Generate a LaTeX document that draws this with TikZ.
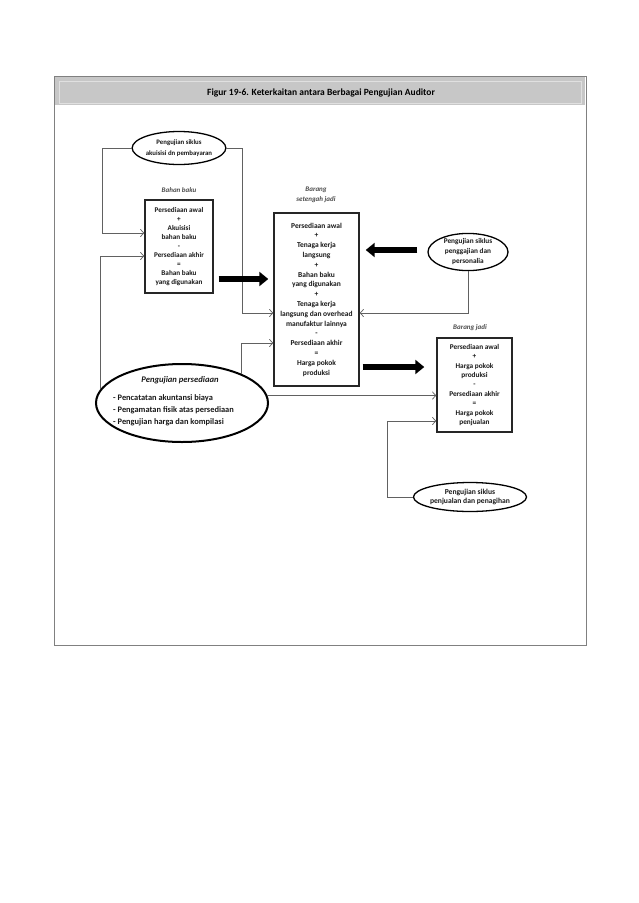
\documentclass[tikz,border=0pt]{standalone}
\usepackage{fontspec}
\setmainfont{Carlito}
\usetikzlibrary{shapes.geometric,arrows.meta,calc}
\begin{document}
\begin{tikzpicture}[x=1pt,y=-1pt,
  conn/.style={draw=black!62, line width=0.7pt, -{Straight Barb[length=3.5pt,width=7.5pt]}},
  bigarrow/.style={draw=black, line width=6pt, -{Triangle[length=9pt,width=14pt]}},
  box/.style={draw=black!85, line width=1.4pt, rectangle, inner sep=0pt, align=center, text=black!90},
  oval/.style={draw=black, line width=1.3pt, ellipse, inner sep=0pt, align=center, text=black!90},
  lbl/.style={font=\fontsize{7}{9}\selectfont\bfseries\itshape, text=black!70, align=center, inner sep=0pt}
]
\useasboundingbox (0,0) rectangle (638,903);
\fill[white] (0,0) rectangle (638,903);
% frame and title bar
\draw[black!50, line width=1pt] (54,76) rectangle (586,645);
\fill[black!22] (55,77) rectangle (585,105);
\draw[black!12, line width=0.8pt] (59,81) rectangle (581,103);
\node[font=\fontsize{9.5}{11}\selectfont\bfseries, inner sep=0pt] (title) at (321,93) {Figur 19-6. Keterkaitan antara Berbagai Pengujian Auditor};

% ellipses
\node[oval, minimum width=88pt, minimum height=33pt, font=\fontsize{6.8}{11}\selectfont\bfseries] (e1) at (179,148) {Pengujian siklus\\akuisisi dn pembayaran};
\node[oval, minimum width=80pt, minimum height=36pt, font=\fontsize{7.3}{10}\selectfont\bfseries] (e2) at (468,252) {Pengujian siklus\\penggajian dan\\personalia};
\node[oval, minimum width=104pt, minimum height=29pt, font=\fontsize{7.6}{9.5}\selectfont\bfseries] (e4) at (470,497) {Pengujian siklus\\penjualan dan penagihan};
\node[oval, line width=2pt, minimum width=172pt, minimum height=78pt] (e3) at (182,403) {};
\node[font=\fontsize{8.6}{10}\selectfont\bfseries\itshape, text=black!90, inner sep=0pt] (e3t) at (180,380) {Pengujian persediaan};
\node[font=\fontsize{8.4}{11.8}\selectfont\bfseries, text=black!90, align=left, anchor=west, inner sep=0pt] (e3l) at (113,410) {- Pencatatan akuntansi biaya\\- Pengamatan fisik atas persediaan\\- Pengujian harga dan kompilasi};

% labels
\node[lbl] (l1) at (179,190) {Bahan baku};
\node[lbl, font=\fontsize{7}{10}\selectfont\bfseries\itshape] (l2) at (316,195) {Barang\\setengah jadi};
\node[lbl] (l3) at (470,328) {Barang jadi};

% boxes
\node[box, minimum width=68pt, minimum height=93pt, font=\fontsize{7.2}{9}\selectfont\bfseries] (b1) at (179,246.5) {Persediaan awal\\+\\Akuisisi\\bahan baku\\-\\Persediaan akhir\\=\\Bahan baku\\yang digunakan};
\node[box, minimum width=85pt, minimum height=173pt, font=\fontsize{7.5}{9.8}\selectfont\bfseries] (b2) at (316.5,299.5) {Persediaan awal\\+\\Tenaga kerja\\langsung\\+\\Bahan baku\\yang digunakan\\+\\Tenaga kerja\\langsung dan overhead\\manufaktur lainnya\\-\\Persediaan akhir\\=\\Harga pokok\\produksi};
\node[box, minimum width=75pt, minimum height=94pt, font=\fontsize{7.3}{9.4}\selectfont\bfseries] (b3) at (474.5,385) {Persediaan awal\\+\\Harga pokok\\produksi\\-\\Persediaan akhir\\=\\Harga pokok\\penjualan};

% helper coordinates
\coordinate (k1) at (102,233);
\coordinate (k2) at (242,313);
\coordinate (k3) at (102,256);
\coordinate (k4) at (0,343);
\coordinate (k7) at (387,421);
\coordinate (y279) at (0,279);
\coordinate (y250) at (0,250);
\coordinate (y367) at (0,367);

% thin connectors
\draw[conn] (e1.west) -| (k1) -- (k1 -| b1.west);
\draw[conn] (e1.east) -| (k2) -- (k2 -| b2.west);
\draw[conn] (e3.170) |- (k3 -| b1.west);
\draw[conn] (e3.26) |- (k4 -| b2.west);
\draw[conn] (e3.5) -- (e3.5 -| b3.west);
\draw[conn] (e2.south) |- (k2 -| b2.east);
\draw[conn] (e4.west) -| (k7) -- (k7 -| b3.west);

% thick arrows
\draw[bigarrow, shorten <=5pt, shorten >=5pt] (y279 -| b1.east) -- (y279 -| b2.west);
\draw[bigarrow, shorten <=10pt, shorten >=6pt] (y250 -| e2.west) -- (y250 -| b2.east);
\draw[bigarrow, shorten <=3pt, shorten >=12pt] (y367 -| b2.east) -- (y367 -| b3.west);
\end{tikzpicture}
\end{document}
